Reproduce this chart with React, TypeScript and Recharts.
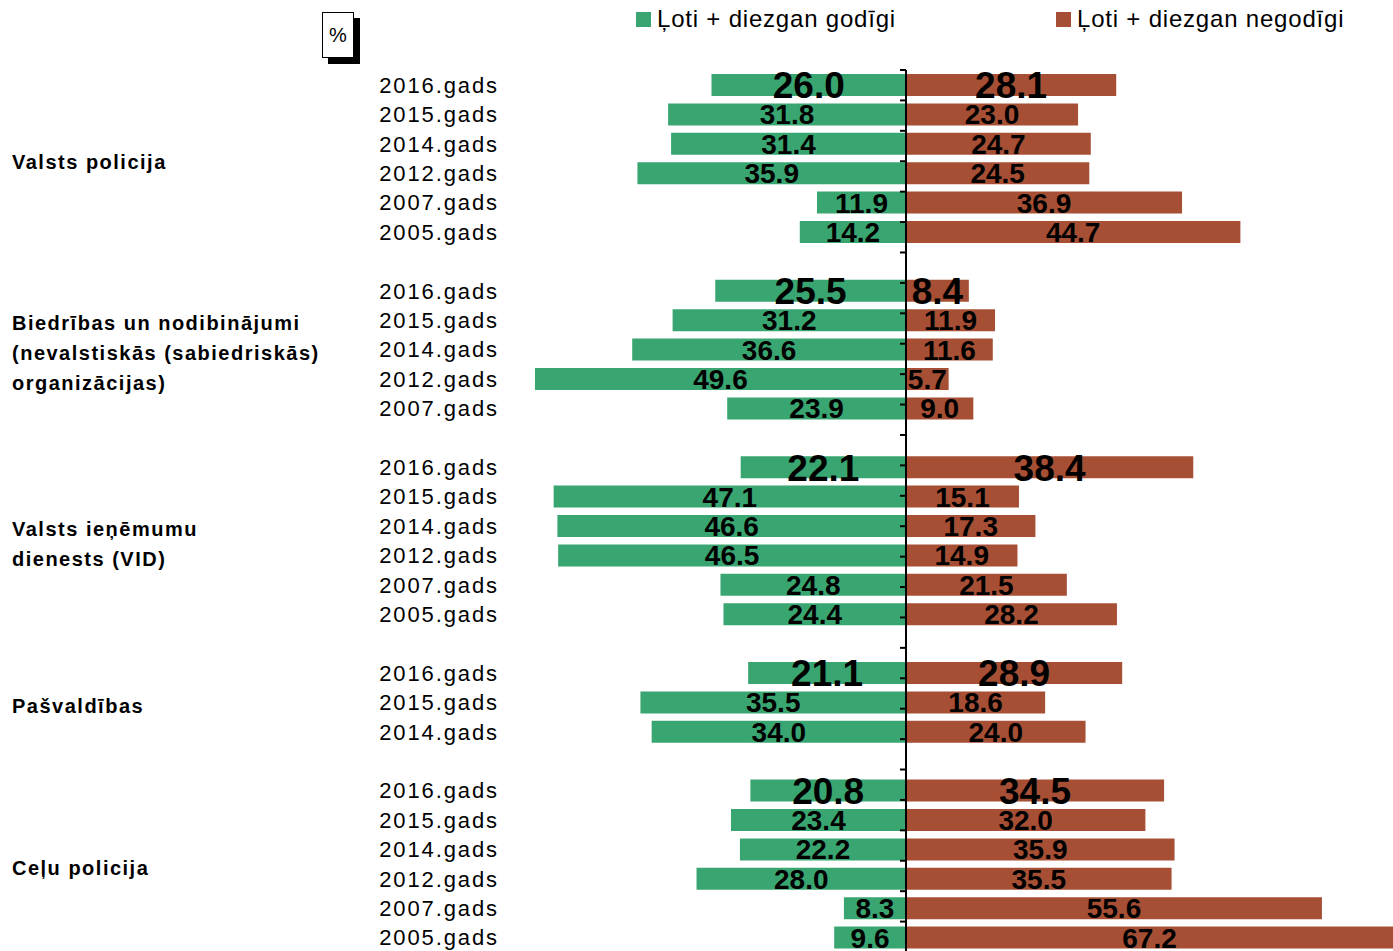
import React from "react";
import {
  BarChart,
  Bar,
  XAxis,
  YAxis,
  ReferenceLine,
  ReferenceArea,
  LabelList
} from "recharts";

const FONT = '"Liberation Sans", Arial, sans-serif';

// institutions (left column), split into lines as in the original
const groupLabels = [
  ["Valsts policija"],
  ["Biedrības un nodibinājumi", "(nevalstiskās (sabiedriskās)", "organizācijas)"],
  ["Valsts ieņēmumu", "dienests (VID)"],
  ["Pašvaldības"],
  ["Ceļu policija"]
];

const years = [
  ["2016.gads", "2015.gads", "2014.gads", "2012.gads", "2007.gads", "2005.gads"],
  ["2016.gads", "2015.gads", "2014.gads", "2012.gads", "2007.gads"],
  ["2016.gads", "2015.gads", "2014.gads", "2012.gads", "2007.gads", "2005.gads"],
  ["2016.gads", "2015.gads", "2014.gads"],
  ["2016.gads", "2015.gads", "2014.gads", "2012.gads", "2007.gads", "2005.gads"]
];

// "Ļoti + diezgan godīgi"
const fairValues = [
  [26.0, 31.8, 31.4, 35.9, 11.9, 14.2],
  [25.5, 31.2, 36.6, 49.6, 23.9],
  [22.1, 47.1, 46.6, 46.5, 24.8, 24.4],
  [21.1, 35.5, 34.0],
  [20.8, 23.4, 22.2, 28.0, 8.3, 9.6]
];

// "Ļoti + diezgan negodīgi"
const unfairValues = [
  [28.1, 23.0, 24.7, 24.5, 36.9, 44.7],
  [8.4, 11.9, 11.6, 5.7, 9.0],
  [38.4, 15.1, 17.3, 14.9, 21.5, 28.2],
  [28.9, 18.6, 24.0],
  [34.5, 32.0, 35.9, 35.5, 55.6, 67.2]
];

const seriesNames = ["Ļoti + diezgan godīgi", "Ļoti + diezgan negodīgi"];
const seriesColors = ["#39A671", "#A64F35"];

type Row = {
  id: string;
  group: number;
  year: string;
  fair: number | null;
  unfair: number | null;
  latest: boolean;
};

const rows: Row[] = [];
groupLabels.forEach((_, g) => {
  if (g > 0) {
    rows.push({ id: `gap-${g}`, group: g, year: "", fair: null, unfair: null, latest: false });
  }
  years[g].forEach((y, i) => {
    rows.push({
      id: `${g}-${y}`,
      group: g,
      year: y,
      fair: -fairValues[g][i],
      unfair: unfairValues[g][i],
      latest: i === 0
    });
  });
});

const YearTick = (props: any) => {
  const { x, y, payload } = props;
  const row = rows.find(r => r.id === payload.value);
  if (!row || !row.year) return null;
  return (
    <text
      x={x}
      y={y + 8}
      textAnchor="end"
      fontSize={22}
      letterSpacing={1.9}
      fontFamily={FONT}
      fill="#000"
    >
      {row.year}
    </text>
  );
};

const valueLabel = (size: number) => (props: any) => {
  const vb = props.viewBox && props.viewBox.width !== undefined ? props.viewBox : props;
  const { value } = props;
  if (value === null || value === undefined || value === "") return null;
  return (
    <text
      x={vb.x + vb.width / 2}
      y={vb.y + vb.height / 2 + size * 0.36}
      textAnchor="middle"
      fontSize={size}
      fontWeight="bold"
      fontFamily={FONT}
      fill="#000"
    >
      {Math.abs(Number(value)).toFixed(1)}
    </text>
  );
};

const bigLabel = valueLabel(37);
const smallLabel = valueLabel(28);

const GroupLabel = (props: any) => {
  const { viewBox, lines } = props;
  if (!viewBox) return null;
  const cy = viewBox.y + viewBox.height / 2 + 4;
  const first = cy - ((lines.length - 1) * 30) / 2 + 7;
  return (
    <text fontSize={20} fontWeight="bold" letterSpacing={1.5} fontFamily={FONT} fill="#000">
      {lines.map((l: string, i: number) => (
        <tspan key={i} x={12} y={first + i * 30}>
          {l}
        </tspan>
      ))}
    </text>
  );
};

function App() {
  return (
    <div
      style={{
        position: "absolute",
        left: 0,
        top: 0,
        width: 1393,
        height: 951,
        overflow: "hidden",
        background: "#fff",
        fontFamily: FONT
      }}
    >
      {/* % box */}
      <div
        style={{
          position: "absolute",
          left: 322,
          top: 12,
          width: 30,
          height: 44,
          border: "1px solid #000",
          background: "#fff",
          boxShadow: "6px 6px 0 #000",
          fontSize: 20,
          lineHeight: "44px",
          textAlign: "center"
        }}
      >
        %
      </div>

      {/* legend */}
      {seriesNames.map((name, i) => (
        <div
          key={name}
          style={{ position: "absolute", left: 636 + i * 420, top: 7, display: "flex", alignItems: "center" }}
        >
          <div style={{ width: 15, height: 15, background: seriesColors[i], marginRight: 6 }} />
          <span style={{ fontSize: 24, lineHeight: "24px", letterSpacing: 0.8, color: "#000" }}>{name}</span>
        </div>
      ))}

      <div style={{ position: "absolute", left: 0, top: 0 }}>
        <BarChart
          width={1393}
          height={960}
          data={rows}
          layout="vertical"
          stackOffset="sign"
          barSize={22}
          margin={{ top: 70, right: 0, bottom: 8, left: 0 }}
        >
          <XAxis type="number" domain={[-52, 65.1]} hide allowDataOverflow />
          <YAxis
            type="category"
            dataKey="id"
            width={517}
            axisLine={false}
            tickLine={false}
            tickSize={0}
            tickMargin={18}
            interval={0}
            tick={<YearTick />}
          />
          <YAxis yAxisId="n" type="number" domain={[0, rows.length]} hide />
          <Bar dataKey="fair" stackId="a" fill={seriesColors[0]} isAnimationActive={false}>
            <LabelList dataKey={(r: Row) => (r.latest ? r.fair : null)} content={bigLabel} />
            <LabelList dataKey={(r: Row) => (r.latest ? null : r.fair)} content={smallLabel} />
          </Bar>
          <Bar dataKey="unfair" stackId="a" fill={seriesColors[1]} isAnimationActive={false}>
            <LabelList dataKey={(r: Row) => (r.latest ? r.unfair : null)} content={bigLabel} />
            <LabelList dataKey={(r: Row) => (r.latest ? null : r.unfair)} content={smallLabel} />
          </Bar>
          {groupLabels.map((lines, g) => {
            const ids = rows.filter(r => r.group === g && r.year);
            return (
              <ReferenceArea
                key={`area-${g}`}
                y1={ids[0].id}
                y2={ids[ids.length - 1].id}
                fill="none"
                stroke="none"
                ifOverflow="visible"
                label={<GroupLabel lines={lines} />}
              />
            );
          })}
          <ReferenceLine x={0} stroke="#000" strokeWidth={2} />
          {Array.from({ length: rows.length + 1 }, (_, i) => (
            <ReferenceLine
              key={`tick-${i}`}
              yAxisId="n"
              segment={[{ x: -0.8, y: i }, { x: 0, y: i }]}
              stroke="#000"
              strokeWidth={2}
              ifOverflow="visible"
            />
          ))}
        </BarChart>
      </div>
    </div>
  );
}

export default App;
